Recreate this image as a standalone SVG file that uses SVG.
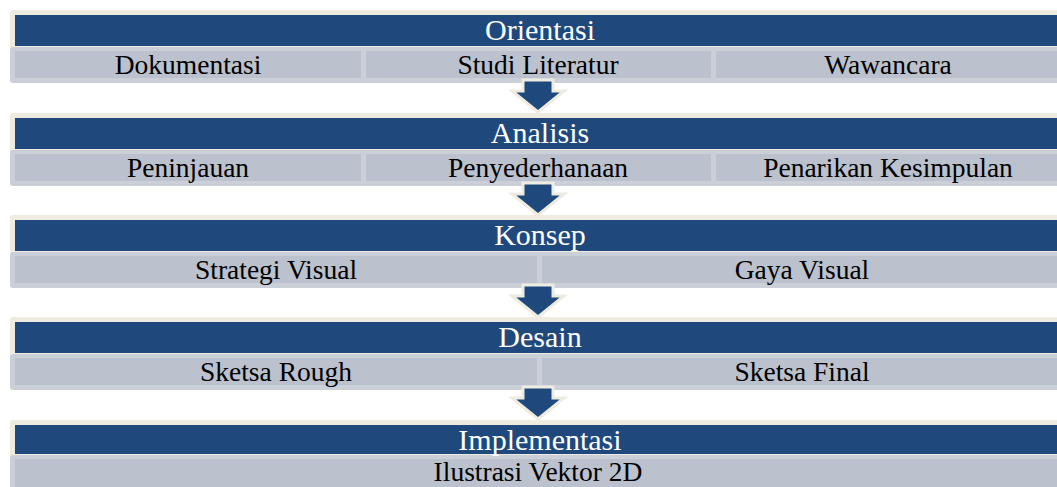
<svg xmlns="http://www.w3.org/2000/svg" width="1057" height="487" viewBox="0 0 1057 487">
<style>
.frame{fill:#EEECE1}
.band{fill:#1F497D}
.sub{fill:#CBCFD8}
.cell{fill:#BBC1CD}
.title{font-family:"Liberation Serif","Times New Roman",serif;font-size:30px;fill:#FFFFFF;text-anchor:middle}
.item{font-family:"Liberation Serif","Times New Roman",serif;font-size:27.5px;fill:#000000;text-anchor:middle}
.arrow{fill:#1F497D;stroke:#EEECE1;stroke-width:3;stroke-linejoin:miter}
</style>
<rect width="1057" height="487" fill="#FFFFFF"/>
<g id="orientasi">
<rect class="frame" x="10" y="10" width="1060" height="40" rx="3"/>
<rect class="band" x="15" y="15" width="1055" height="31"/>
<rect class="sub" x="10" y="47" width="1060" height="36" rx="3"/>
<rect class="cell" x="15" y="51" width="346" height="27"/>
<rect class="cell" x="366" y="51" width="345" height="27"/>
<rect class="cell" x="716" y="51" width="350" height="27"/>
<text class="title" x="540" y="40">Orientasi</text>
<text class="item" x="188" y="74">Dokumentasi</text>
<text class="item" x="538" y="74">Studi Literatur</text>
<text class="item" x="888" y="74">Wawancara</text>
</g>
<g id="analisis">
<rect class="frame" x="10" y="113" width="1060" height="40" rx="3"/>
<rect class="band" x="15" y="118" width="1055" height="31"/>
<rect class="sub" x="10" y="150" width="1060" height="36" rx="3"/>
<rect class="cell" x="15" y="154" width="346" height="27"/>
<rect class="cell" x="366" y="154" width="345" height="27"/>
<rect class="cell" x="716" y="154" width="350" height="27"/>
<text class="title" x="540" y="143">Analisis</text>
<text class="item" x="188" y="177">Peninjauan</text>
<text class="item" x="538" y="177">Penyederhanaan</text>
<text class="item" x="888" y="177">Penarikan Kesimpulan</text>
</g>
<g id="konsep">
<rect class="frame" x="10" y="215" width="1060" height="40" rx="3"/>
<rect class="band" x="15" y="220" width="1055" height="31"/>
<rect class="sub" x="10" y="252" width="1060" height="36" rx="3"/>
<rect class="cell" x="15" y="256" width="522" height="27"/>
<rect class="cell" x="542" y="256" width="524" height="27"/>
<text class="title" x="540" y="245">Konsep</text>
<text class="item" x="276" y="279">Strategi Visual</text>
<text class="item" x="802" y="279">Gaya Visual</text>
</g>
<g id="desain">
<rect class="frame" x="10" y="317" width="1060" height="40" rx="3"/>
<rect class="band" x="15" y="322" width="1055" height="31"/>
<rect class="sub" x="10" y="354" width="1060" height="36" rx="3"/>
<rect class="cell" x="15" y="358" width="522" height="27"/>
<rect class="cell" x="542" y="358" width="524" height="27"/>
<text class="title" x="540" y="347">Desain</text>
<text class="item" x="276" y="381">Sketsa Rough</text>
<text class="item" x="802" y="381">Sketsa Final</text>
</g>
<g id="implementasi">
<rect class="frame" x="10" y="420" width="1060" height="40" rx="3"/>
<rect class="band" x="15" y="425" width="1055" height="29"/>
<rect class="sub" x="10" y="455" width="1060" height="40" rx="3"/>
<rect class="cell" x="15" y="459" width="1051" height="30"/>
<text class="title" x="540" y="450">Implementasi</text>
<text class="item" x="538" y="481">Ilustrasi Vektor 2D</text>
</g>
<g id="connectors">
<polygon class="arrow" points="523,80 553,80 553,91 564,91 538,112 512,91 523,91"/>
<polygon class="arrow" points="523,183 553,183 553,194 564,194 538,215 512,194 523,194"/>
<polygon class="arrow" points="523,285 553,285 553,296 564,296 538,317 512,296 523,296"/>
<polygon class="arrow" points="523,387 553,387 553,398 564,398 538,419 512,398 523,398"/>
</g>
</svg>
